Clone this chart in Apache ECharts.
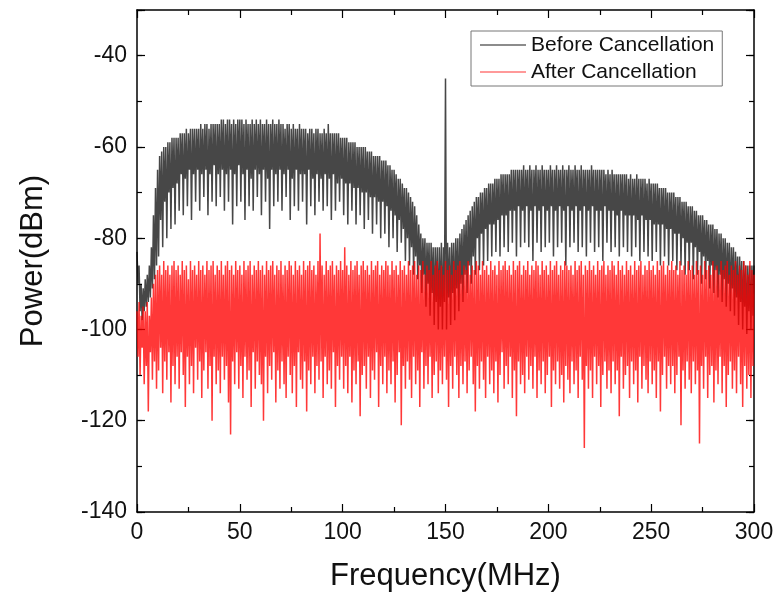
<!DOCTYPE html>
<html>
<head>
<meta charset="utf-8">
<script src="https://cdn.jsdelivr.net/npm/echarts@6/dist/echarts.min.js"></script>
<style>
html,body{margin:0;padding:0;background:#fff;}
#chart{width:778px;height:597px;}
</style>
</head>
<body>
<div id="chart"></div>
<script>
// Frequency grid (MHz): one sample every 0.5 MHz from 0 to 300
const freqStart = 0;
const freqStep = 0.5;

// Before Cancellation (dBm) (20 samples = 10 MHz per row)
const beforeCancellation = [
-83,-90,-86,-96,-90,-98,-91,-96,-89,-95,-88,-94,-86,-93,-82,-91,-75,-89,-69,-86,
-65,-84,-62,-76,-61,-82,-60,-72,-60,-80,-59,-70,-59,-78,-58,-69,-58,-77,-58,-68,
-58,-74,-57,-66,-57,-75,-57,-67,-56,-73,-57,-65,-56,-76,-56,-66,-56,-72,-56,-65,
-56,-74,-55,-66,-56,-71,-55,-65,-55,-75,-56,-66,-55,-72,-55,-64,-55,-73,-55,-66,
-55,-71,-54,-65,-54,-74,-55,-66,-54,-72,-54,-65,-55,-77,-54,-66,-55,-73,-54,-64,
-54,-72,-54,-66,-55,-76,-54,-65,-55,-73,-55,-67,-54,-74,-55,-65,-54,-71,-55,-66,
-54,-75,-55,-65,-55,-72,-54,-67,-55,-78,-55,-65,-54,-73,-55,-66,-55,-72,-54,-65,
-55,-74,-55,-66,-56,-71,-55,-65,-55,-76,-56,-67,-55,-73,-56,-65,-56,-74,-55,-66,
-56,-72,-56,-66,-56,-77,-57,-65,-56,-73,-56,-67,-57,-75,-56,-66,-56,-72,-57,-67,
-57,-74,-56,-66,-57,-73,-55,-67,-57,-76,-57,-66,-57,-74,-57,-68,-57,-72,-58,-67,
-58,-75,-58,-68,-58,-77,-59,-68,-59,-74,-59,-69,-59,-77,-60,-69,-60,-75,-60,-70,
-60,-78,-60,-70,-61,-76,-61,-71,-61,-79,-62,-71,-62,-77,-62,-72,-62,-80,-63,-72,
-63,-79,-63,-73,-64,-82,-64,-74,-65,-80,-65,-75,-66,-83,-67,-76,-67,-81,-68,-78,
-69,-85,-69,-80,-70,-86,-71,-82,-72,-88,-73,-84,-75,-89,-77,-86,-79,-92,-80,-88,
-80,-95,-81,-90,-81,-97,-81,-92,-82,-99,-82,-94,-82,-100,-82,-95,-81,-100,-82,-94,
-45,-100,-81,-93,-82,-99,-81,-92,-81,-98,-80,-91,-80,-96,-79,-90,-78,-94,-77,-88,
-76,-92,-75,-86,-74,-90,-73,-84,-72,-88,-71,-80,-71,-87,-70,-79,-70,-86,-69,-78,
-69,-85,-68,-77,-68,-84,-68,-77,-67,-83,-67,-76,-67,-84,-66,-75,-66,-82,-66,-75,
-66,-83,-66,-74,-65,-81,-65,-74,-65,-84,-65,-73,-65,-82,-65,-74,-64,-81,-65,-73,
-65,-82,-64,-74,-65,-85,-65,-73,-64,-81,-65,-74,-65,-83,-64,-73,-65,-82,-65,-74,
-65,-81,-64,-73,-65,-84,-65,-74,-64,-82,-65,-73,-65,-81,-64,-74,-65,-86,-65,-73,
-64,-82,-65,-74,-65,-81,-64,-73,-65,-83,-65,-74,-64,-82,-65,-73,-65,-84,-65,-74,
-65,-81,-64,-73,-65,-83,-65,-74,-65,-82,-65,-74,-65,-85,-65,-73,-66,-81,-65,-74,
-66,-83,-65,-74,-66,-82,-66,-75,-66,-84,-66,-74,-66,-82,-66,-75,-66,-83,-67,-75,
-66,-84,-67,-75,-67,-82,-66,-76,-67,-85,-67,-75,-67,-83,-67,-76,-68,-84,-67,-76,
-68,-85,-68,-77,-68,-83,-68,-77,-69,-86,-69,-77,-69,-84,-69,-78,-70,-86,-70,-78,
-70,-85,-70,-79,-71,-87,-71,-79,-71,-86,-72,-80,-72,-88,-72,-81,-73,-87,-73,-81,
-73,-89,-74,-82,-74,-88,-75,-83,-75,-90,-75,-84,-76,-89,-76,-85,-77,-91,-77,-86,
-77,-92,-78,-87,-78,-93,-79,-88,-79,-94,-80,-89,-80,-95,-81,-90,-81,-96,-82,-91,
-82,-97,-83,-93,-84,-99,-84,-94,-85,-100,-85,-95,-86,-101,-86,-96,-86,-100,-86,-97,
-86
];

// After Cancellation (dBm) (20 samples = 10 MHz per row)
const afterCancellation = [
-96,-106,-94,-110,-97,-104,-95,-112,-96,-108,-94,-118,-97,-105,-93,-111,-90,-107,-88,-113,
-87,-109,-86,-104,-88,-114,-85,-107,-87,-111,-86,-105,-88,-116,-86,-108,-85,-112,-87,-106,
-86,-113,-88,-105,-85,-110,-87,-117,-86,-106,-89,-112,-85,-108,-87,-114,-86,-104,-88,-111,
-85,-107,-87,-115,-86,-109,-88,-105,-85,-113,-87,-108,-86,-120,-85,-106,-88,-112,-86,-109,
-87,-114,-85,-106,-88,-111,-86,-108,-85,-116,-87,-123,-86,-107,-88,-112,-85,-105,-87,-113,
-86,-108,-88,-115,-85,-106,-87,-111,-86,-109,-85,-117,-88,-105,-86,-113,-87,-107,-85,-110,
-87,-112,-86,-120,-88,-106,-85,-114,-87,-108,-86,-111,-85,-105,-88,-116,-86,-109,-87,-113,
-85,-107,-88,-112,-86,-115,-87,-106,-85,-110,-86,-114,-88,-108,-85,-117,-87,-105,-86,-111,
-88,-113,-85,-107,-87,-118,-86,-109,-85,-112,-87,-106,-86,-114,-88,-108,-85,-111,-79,-107,
-86,-115,-88,-106,-85,-112,-87,-109,-86,-113,-85,-105,-88,-117,-86,-108,-87,-111,-85,-106,
-87,-113,-82,-108,-86,-114,-88,-106,-85,-116,-87,-109,-86,-112,-85,-107,-88,-119,-86,-110,
-85,-108,-87,-113,-86,-106,-88,-115,-85,-109,-87,-111,-86,-105,-85,-117,-88,-108,-86,-112,
-87,-106,-85,-114,-86,-109,-88,-112,-85,-107,-87,-116,-86,-110,-88,-105,-85,-121,-87,-108,
-86,-113,-88,-107,-85,-111,-87,-115,-86,-106,-85,-112,-88,-109,-86,-117,-87,-105,-85,-113,
-88,-108,-86,-112,-87,-106,-85,-115,-88,-110,-86,-107,-85,-114,-87,-109,-86,-112,-88,-106,
-85,-111,-87,-117,-86,-108,-88,-113,-85,-106,-87,-110,-86,-115,-85,-108,-88,-112,-86,-107,
-87,-114,-85,-109,-88,-106,-86,-112,-87,-118,-85,-108,-86,-113,-88,-107,-85,-111,-87,-115,
-86,-106,-88,-112,-85,-109,-87,-114,-86,-107,-88,-116,-85,-110,-87,-105,-86,-113,-85,-108,
-87,-112,-86,-106,-88,-115,-85,-109,-87,-119,-86,-107,-85,-112,-88,-110,-86,-114,-87,-106,
-85,-111,-88,-108,-86,-113,-87,-106,-85,-115,-86,-109,-88,-112,-85,-107,-87,-114,-86,-110,
-88,-106,-85,-117,-87,-109,-86,-112,-85,-107,-88,-113,-86,-110,-87,-116,-85,-108,-86,-111,
-87,-114,-86,-107,-88,-112,-85,-109,-87,-115,-86,-106,-85,-111,-88,-126,-86,-108,-87,-113,
-85,-109,-87,-115,-86,-106,-88,-112,-85,-108,-87,-117,-86,-110,-85,-107,-88,-113,-86,-109,
-87,-114,-85,-107,-86,-112,-88,-109,-85,-119,-87,-106,-86,-113,-88,-110,-85,-108,-87,-115,
-86,-107,-88,-112,-85,-109,-87,-116,-86,-106,-85,-113,-88,-108,-86,-111,-87,-114,-85,-107,
-87,-112,-86,-109,-88,-115,-85,-107,-87,-118,-86,-110,-85,-106,-88,-113,-86,-108,-87,-112,
-85,-108,-87,-114,-86,-110,-88,-106,-85,-121,-87,-109,-86,-113,-88,-107,-85,-111,-87,-114,
-86,-107,-88,-112,-85,-109,-87,-125,-86,-108,-88,-113,-85,-106,-87,-115,-86,-110,-88,-108,
-85,-116,-87,-109,-86,-112,-88,-106,-85,-114,-87,-108,-86,-117,-85,-110,-88,-107,-86,-113,
-87,-109,-85,-114,-88,-106,-86,-112,-87,-117,-85,-108,-86,-113,-88,-110,-85,-115,-87,-108,
-88
];

const seriesNames = ['Before Cancellation', 'After Cancellation'];
const xMin = 0, xMax = 300, xInterval = 50;
const yMin = -140, yMax = -30, yInterval = 20;

const FONT = 'Liberation Sans, Arial, sans-serif';
const pairs = arr => arr.map((v, i) => [freqStart + i * freqStep, v]);

const chart = echarts.init(document.getElementById('chart'), null, {renderer: 'canvas'});
const axisLineStyle = {color: '#000', width: 1.5};
const tickStyle = {color: '#000', width: 1.2};

chart.setOption({
  animation: false,
  backgroundColor: '#fff',
  grid: {left: 137, right: 24, top: 10, bottom: 85, containLabel: false},
  legend: {
    orient: 'vertical',
    left: 471, top: 31,
    padding: [3, 8, 3, 9],
    itemGap: 5,
    itemWidth: 46,
    itemHeight: 1.5,
    icon: 'rect',
    borderColor: '#777', borderWidth: 1,
    textStyle: {fontSize: 21, fontFamily: FONT, color: '#111', lineHeight: 22},
    data: seriesNames
  },
  xAxis: [
    {
      type: 'value', min: xMin, max: xMax, interval: xInterval, position: 'bottom',
      axisLine: {show: true, lineStyle: axisLineStyle},
      axisTick: {show: true, inside: true, length: 8, lineStyle: tickStyle},
      minorTick: {show: true, splitNumber: 2, length: 5, lineStyle: tickStyle},
      splitLine: {show: false},
      axisLabel: {fontSize: 23, fontFamily: FONT, color: '#111', margin: 9},
      name: 'Frequency(MHz)', nameLocation: 'middle', nameGap: 49,
      nameTextStyle: {fontSize: 31, fontFamily: FONT, color: '#111'}
    },
    {
      type: 'value', min: xMin, max: xMax, interval: xInterval, position: 'top',
      axisLine: {show: true, lineStyle: axisLineStyle},
      axisTick: {show: true, inside: true, length: 8, lineStyle: tickStyle},
      minorTick: {show: true, splitNumber: 2, length: 5, lineStyle: tickStyle},
      splitLine: {show: false},
      axisLabel: {show: false}
    }
  ],
  yAxis: [
    {
      type: 'value', min: yMin, max: yMax, interval: yInterval / 2, position: 'left',
      axisLine: {show: true, lineStyle: axisLineStyle},
      axisTick: {show: true, inside: true, length: 5, lineStyle: tickStyle},
      splitLine: {show: false},
      axisLabel: {
        fontSize: 23, fontFamily: FONT, color: '#111', margin: 10,
        formatter: v => ((v - yMin) % yInterval === 0 && v !== yMax) ? String(v) : ''
      },
      name: 'Power(dBm)', nameLocation: 'middle', nameGap: 88, nameRotate: 90,
      nameTextStyle: {fontSize: 31, fontFamily: FONT, color: '#111'}
    },
    {
      type: 'value', min: yMin, max: yMax, interval: yInterval, position: 'left',
      axisLine: {show: false},
      axisTick: {show: true, inside: true, length: 8, lineStyle: tickStyle},
      splitLine: {show: false}, axisLabel: {show: false}
    },
    {
      type: 'value', min: yMin, max: yMax, interval: yInterval / 2, position: 'right',
      axisLine: {show: true, lineStyle: axisLineStyle},
      axisTick: {show: true, inside: true, length: 5, lineStyle: tickStyle},
      splitLine: {show: false}, axisLabel: {show: false}
    },
    {
      type: 'value', min: yMin, max: yMax, interval: yInterval, position: 'right',
      axisLine: {show: false},
      axisTick: {show: true, inside: true, length: 8, lineStyle: tickStyle},
      splitLine: {show: false}, axisLabel: {show: false}
    }
  ],
  series: [
    {
      name: seriesNames[0], type: 'line', xAxisIndex: 0, yAxisIndex: 0,
      data: pairs(beforeCancellation),
      showSymbol: false, symbol: 'none', sampling: null,
      lineStyle: {color: '#000', width: 1.5, opacity: 0.72},
      itemStyle: {color: '#666'}
    },
    {
      name: seriesNames[1], type: 'line', xAxisIndex: 0, yAxisIndex: 0,
      data: pairs(afterCancellation),
      showSymbol: false, symbol: 'none', sampling: null,
      lineStyle: {color: '#ff0000', width: 1.5, opacity: 0.78},
      itemStyle: {color: '#f77'}
    }
  ]
});
</script>
</body>
</html>
